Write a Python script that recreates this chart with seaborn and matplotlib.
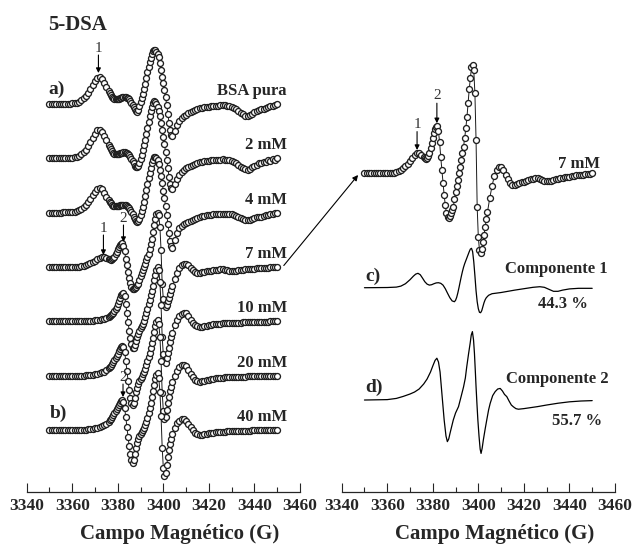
import numpy as np
import matplotlib
matplotlib.use("Agg")
import matplotlib.pyplot as plt
from matplotlib.ticker import MultipleLocator
import seaborn as sns

sns.set_style("ticks")
plt.rcParams['font.family'] = ['Liberation Serif', 'DejaVu Serif']
plt.rcParams['font.weight'] = 'bold'

# magnetic field grid (G): 1 G steps on the wings, 0.5 G in the centre
field = np.concatenate([np.arange(3350, 3376.5, 1),
                        np.arange(3376.5, 3404.5, 0.5),
                        np.arange(3405, 3450.5, 1)])

bsa_pura = [0, 0, 0, 0, 0, 0, 0.2, 0.3, 0.4, 0.5, 0.7, 1, 1.5, 2.5, 4, 6, 8, 11.5, 15, 19, 23, 26.5, 27.3, 25, 21.5, 17, 13,
            11, 9, 7.5, 6, 5.2, 4.8, 4.8, 5, 5.5, 6, 6.3, 6.6, 6.9, 7, 7, 6.5, 5.8, 5, 3.5, 1.5, -0.5, -2.5, -5, -6.8,
            -7.5, -5.5, -2, 2, 6, 10, 15, 20, 26, 32, 37, 42, 46.5, 50.5, 53, 54.3, 54, 52.5, 50, 47, 41, 34.5, 27.5,
            21, 14, 7, -1, -10, -19, -26, -31, -32,
            -27, -21, -17, -14, -12, -10.5, -9, -7.5, -6.5, -5.5, -4.7, -4, -3.5, -3, -2.7, -2.5, -2.2, -2, -1.8, -1.5,
            -1.3, -1.2, -1.2, -1.5, -2, -2.5, -3.5, -5, -6.5, -8.5, -10, -11.5, -12, -11, -9.5, -8, -7, -6, -5.2, -4.5,
            -3.7, -3, -2.3, -1.5, -0.8, 0]
mm2 = [0, 0, 0, 0, 0, 0, 0.2, 0.3, 0.4, 0.5, 0.8, 1.1, 1.7, 2.8, 4.3, 6.3, 8.5, 12, 16, 20.5, 24.5, 28, 28.8, 26.5, 22.5, 18, 13.5,
       11.2, 9, 7.2, 5.8, 4.8, 4.3, 4.2, 4.4, 4.8, 5.2, 5.5, 5.8, 6, 6, 5.8, 5.2, 4.4, 3.4, 1.8, -0.3, -2.5, -5, -7.2, -8.5,
       -9, -8, -5, -1, 3.5, 8, 13, 18.5, 24.5, 30.5, 36.5, 42, 47, 51.5, 55, 57, 56.5, 54.5, 51.5, 47.5, 42, 35.5, 28.5,
       21.5, 14, 6.5, -1.5, -10, -18.5, -25.5, -30, -31,
       -26, -20.5, -16.5, -13.5, -11.5, -10, -8.7, -7.3, -6.3, -5.4, -4.6, -4, -3.5, -3, -2.6, -2.3, -2, -1.8, -1.6, -1.4,
       -1.2, -1.1, -1.2, -1.5, -2, -2.6, -3.6, -5, -6.6, -8.4, -9.8, -11, -11.3, -10.2, -8.6, -7.2, -6.5, -5, -4.8, -3.2,
       -3.6, -2, -2.4, -0.8, -1.2, 0]
mm4 = [0, 0, 0, 0, 0, 0, 0.2, 0.3, 0.4, 0.5, 0.7, 1, 1.5, 2.5, 3.8, 5.5, 7.5, 10.5, 14, 17.5, 21, 24, 25, 23.5, 20, 16, 12.5,
       10.8, 9.3, 8, 7, 6.4, 6.2, 6.3, 6.6, 7, 7.4, 7.7, 7.9, 8, 8, 7.6, 7, 6, 4.8, 3, 0.8, -1.5, -4, -6.5, -8.2,
       -9, -8.5, -6, -2.5, 1.5, 6, 11, 16.5, 22.5, 28.5, 34.5, 40, 45, 49.5, 53, 55.3, 56, 55, 52.5, 48.5, 43, 36.5, 29.5,
       22, 14.5, 6.5, -2, -11, -20, -28, -33.5, -35,
       -27, -20, -15.5, -13, -11.5, -10.3, -9.3, -8.5, -7.5, -6.5, -5.5, -4.5, -3.7, -3, -2.5, -2.2, -2, -1.8, -1.6, -1.5,
       -1.3, -1.1, -1, -1, -1.2, -1.6, -2.2, -3, -4, -5.2, -6.3, -7.2, -7.6, -7, -6, -5.2, -4.6, -4.2, -4, -3.4,
       -2.8, -2.2, -1.6, -1, -0.5, 0]
mm7 = [0, 0, 0, 0, 0, 0, 0, 0, 0, 0, 0, 0, 0.2, 0.4, 0.6, 1, 1.6, 2.5, 3.5, 4.7, 6, 7.5, 9, 10.2, 10.4, 9.4, 8,
       7.6, 7.4, 7.6, 8.5, 10, 12.5, 15, 17.5, 20, 22, 23.3, 23.5, 21, 15.5, 8, 1.5, -5, -11, -16, -20,
       -22, -22.5, -21.5, -20, -18.5, -17, -13, -9.5, -6.5, -3.3, 0, 3.3, 6.5, 10, 13.3, 17.5, 22.5, 28, 35, 42,
       47.5, 53, 54, 51.5, 40, 16.7, -17, -32, -38.3, -40, -38, -34.5, -31, -26.7, -23, -19.5,
       -12.5, -6.5, -1.5, 1.5, 3, 3.2, 1.8, -0.8, -3, -4.8, -5.6, -5.8, -5.3, -4.8, -4.5, -4.2, -3.8, -3.5, -3, -2.7,
       -2.5, -2.5, -2.8, -3.2, -3.6, -4, -4, -3.8, -3.4, -3, -2.7, -2.4, -2.2, -2, -1.8, -1.6, -1.4, -1.2, -1, -0.9,
       -0.7, -0.6, -0.4, -0.3, -0.1, 0]
mm10 = [0, 0, 0, 0, 0, 0, 0, 0, 0, 0, 0, 0, 0, 0, 0, 0, 0, 0.2, 0.4, 0.6, 0.9, 1.2, 1.6, 2.1, 2.7, 3.5, 4.6,
        5.3, 6, 7, 8.5, 10, 12, 14.5, 17, 20, 23, 25.8, 27.5, 28, 25, 17, 8, -1, -9.5, -17, -23,
        -26.5, -27, -24, -20, -16, -12.5, -9.5, -7, -5, -2.5, 0.5, 4, 8, 12.5, 17, 21.5, 26, 30.5, 35.5, 41,
        46, 51, 54, 51, 39, 16, -16, -33, -40, -42, -37, -32, -26.5, -21, -16, -11.5,
        -4, 1.5, 5, 7.5, 8.5, 8, 5, 1.5, -1.5, -3.8, -5.2, -5.7, -5.3, -4.8, -4.3, -3.9, -3.5, -3.2, -2.9, -2.6,
        -2.4, -2.2, -2, -1.9, -1.8, -1.7, -1.6, -1.5, -1.4, -1.3, -1.2, -1.1, -1, -0.9, -0.8, -0.7, -0.6, -0.6, -0.5, -0.4,
        -0.3, -0.3, -0.2, -0.1, 0, 0]
mm20 = [0, 0, 0, 0, 0, 0, 0, 0, 0, 0, 0, 0, 0, 0, 0, 0, 0.2, 0.4, 0.6, 0.9, 1.3, 1.8, 2.4, 3.2, 4, 5.5, 7.5,
        8.8, 10, 11.5, 13.5, 15.5, 17.5, 19.5, 22, 24.5, 26.5, 28.5, 30, 29, 24, 15, 5, -5, -14, -22, -27.5,
        -29, -27, -22, -16.5, -12, -8.5, -5.5, -3, -1, 1.5, 4, 7, 10.5, 14.5, 18.5, 23, 27.5, 32.5, 38, 44,
        50, 54, 55.5, 52, 39, 15, -17, -35, -43, -41, -34, -27, -21, -15.5, -11, -6.5,
        0, 5, 8.5, 10.5, 11, 9.5, 6, 2, -1.5, -4, -5.5, -6, -5.5, -5, -4.5, -4, -3.6, -3.2, -2.9, -2.6,
        -2.3, -2.1, -1.9, -1.8, -1.7, -1.6, -1.5, -1.4, -1.3, -1.2, -1.1, -1, -0.9, -0.8, -0.7, -0.6, -0.5, -0.5, -0.4, -0.3,
        -0.3, -0.2, -0.1, -0.1, 0, 0]
mm40 = [0, 0, 0, 0, 0, 0, 0, 0, 0, 0, 0, 0, 0, 0, 0, 0, 0.3, 0.5, 0.8, 1.1, 1.5, 2, 2.7, 3.4, 4.5, 6, 8,
        9.5, 11, 12.8, 14.8, 17, 19, 21, 23, 25, 27, 29, 30, 28, 22, 13, 3, -7, -16, -24, -30.5,
        -33, -30, -24, -18, -13, -9.5, -6.5, -4, -2, 0, 2, 4.5, 8, 12, 16.5, 21.5, 27, 33, 39, 45,
        50.5, 55, 56.5, 52, 38, 14, -18, -38, -46, -43, -35, -27, -20, -14, -9, -4.5,
        2, 6.5, 9, 10.5, 10.5, 9, 6, 2.5, -0.5, -3, -4.5, -5, -4.8, -4.4, -4, -3.6, -3.2, -2.9, -2.6, -2.3,
        -2.1, -1.9, -1.7, -1.6, -1.5, -1.4, -1.3, -1.2, -1.1, -1, -0.9, -0.8, -0.8, -0.7, -0.6, -0.5, -0.5, -0.4, -0.3, -0.3,
        -0.2, -0.2, -0.1, -0.1, 0, 0]

spectra = [bsa_pura, mm2, mm4, mm7, mm10, mm20, mm40]
spectra_labels = ["BSA pura", "2 mM", "4 mM", "7 mM", "10 mM", "20 mM", "40 mM"]

# simulated components of the 7 mM spectrum
comp1_field = [3350, 3360, 3364, 3366, 3368, 3370, 3371.5, 3372.5, 3373.5, 3374.5, 3375.5, 3376.5, 3377.5, 3378.5,
               3379.5, 3380.5, 3381.5, 3382.5, 3383.5, 3384.5, 3385.5, 3386.5, 3387.5, 3388.5, 3389.5, 3390, 3390.5,
               3391, 3391.5, 3392, 3392.5, 3393, 3393.5, 3394, 3394.5, 3395, 3395.5, 3396, 3396.5, 3397, 3397.5,
               3398, 3398.5, 3399, 3399.5, 3400, 3400.5, 3401, 3401.5, 3402, 3402.5, 3403, 3403.5, 3404.5, 3406,
               3408, 3410, 3413, 3416, 3420, 3424, 3427, 3429, 3431, 3433, 3435, 3437, 3440, 3444, 3450]
comp1 = [0, 0.1, 0.3, 0.8, 2, 4, 5.8, 6.8, 7.2, 6.5, 4.8, 3, 1.8, 1.3, 1.5, 2, 2.4, 2.5, 2.2, 1.3, -0.5, -2.8, -5,
         -6.6, -7, -6.3, -4.8, -2.6, 0, 2.8, 5.5, 8, 10.2, 12, 13.5, 15, 16.5, 18, 19.3, 19.7, 18, 13, 6, -1.5, -7,
         -10.5, -12.3, -12.5, -11.5, -9.5, -7.5, -6, -5, -3.8, -3, -2.7, -2.4, -1.8, -1.2, -0.5, 0.2, 0.5, 0.2, -0.8,
         -1.8, -1.8, -1.2, -0.6, -0.3, -0.3]
comp2_field = [3350, 3360, 3364, 3367, 3370, 3372, 3374, 3376, 3377.5, 3379, 3380, 3381, 3381.8, 3382.5, 3383.2,
               3384, 3385, 3385.8, 3386.4, 3387, 3387.6, 3389, 3390, 3391.3, 3392.5, 3393.5, 3394.3, 3394.9, 3395.7,
               3396.4, 3396.9, 3397.4, 3397.9, 3398.3, 3398.7, 3399, 3399.4, 3399.8, 3400.3, 3400.8, 3401.2, 3401.7,
               3402.2, 3403, 3403.7, 3404.5, 3405.2, 3406.3, 3407.4, 3408.5, 3409.6, 3410.6, 3411.5, 3412.5, 3413.5,
               3414.5, 3415.4, 3416.5, 3417.6, 3420, 3423, 3426, 3430, 3435, 3440, 3445, 3450]
comp2 = [0, 0.2, 0.8, 1.8, 3, 4, 5.5, 8, 10.5, 14, 17, 19.8, 20.9, 19, 14, 3.3, -10, -18, -20.8, -19.5, -16.5, -10,
         -6.5, -3.3, 2, 6.5, 11, 16.5, 23, 28.3, 32.5, 34.2, 30, 23.3, 14, 6.7, -2, -10, -18, -24.5, -26.7, -24, -20,
         -14.5, -10, -5, -1.7, 2.2, 4.2, 5.5, 5.8, 4.5, 2.8, 1.7, -0.5, -2.5, -3.4, -4.3, -4.6, -4.3, -3.8, -3.3,
         -2.5, -1.6, -0.9, -0.5, -0.3]
comp_labels = ["Componente 1", "Componente 2"]
comp_percent = ["44.3 %", "55.7 %"]

# layout (vertical stacking, in pixel-like units)
left_offsets = [388, 333.7, 279.4, 225.1, 170.8, 116.5, 62.2]
right_offsets = {"7mM": 159.35, "c": 102.15, "d": 46}

fig = plt.figure(figsize=(6.37, 5.45), dpi=100)
ax_l = fig.add_axes([0.0419, 0.0972, 0.4290, 0.9028])
ax_r = fig.add_axes([0.5364, 0.0972, 0.4290, 0.9028])

dot = dict(marker='o', markersize=4.3, markerfacecolor='white', markeredgecolor='#1e1e1e',
           markeredgewidth=0.95, color='#1a1a1a', linewidth=0.7)

for vals, off, lab in zip(spectra, left_offsets, spectra_labels):
    sns.lineplot(x=field, y=np.array(vals) + off, ax=ax_l, estimator=None, **dot)
    ax_l.text(3454.2, off + 9, lab, ha='right', va='baseline', fontsize=12, fontweight='bold')

sns.lineplot(x=field, y=np.array(mm7) + right_offsets["7mM"], ax=ax_r, estimator=None, **dot)
sns.lineplot(x=comp1_field, y=np.array(comp1) + right_offsets["c"], ax=ax_r, estimator=None,
             color='black', linewidth=0.9)
sns.lineplot(x=comp2_field, y=np.array(comp2) + right_offsets["d"], ax=ax_r, estimator=None,
             color='black', linewidth=0.9)

ax_l.set_ylim(0, 492)
ax_r.set_ylim(0, 246)

for ax in (ax_l, ax_r):
    ax.set_xlim(3340, 3460)
    ax.set_xticks(range(3340, 3461, 20))
    ax.xaxis.set_minor_locator(MultipleLocator(10))
    ax.set_yticks([])
    ax.set_ylabel('')
    for s in ('top', 'left', 'right'):
        ax.spines[s].set_visible(False)
    ax.spines['bottom'].set_linewidth(0.9)
    ax.tick_params(axis='x', which='major', direction='in', length=6.5, width=0.8, labelsize=12.5, pad=4)
    ax.tick_params(axis='x', which='minor', direction='in', length=3.5, width=0.8)
    for t in ax.get_xticklabels():
        t.set_fontweight('bold')
    ax.set_xlabel('Campo Magnético (G)', fontsize=15, fontweight='bold')
    ax.xaxis.set_label_coords(0.56, -0.066)
    ax.patch.set_alpha(0)

# panel texts
ax_l.text(3349.4, 462, '5-DSA', fontsize=15, fontweight='bold', va='baseline')
ax_l.text(3349.4, 398, 'a)', fontsize=14, fontweight='bold', va='baseline')
ax_l.text(3350.2, 73.7, 'b)', fontsize=14, fontweight='bold', va='baseline')
ax_r.text(3444.3, 161.9, '7 mM', fontsize=12, fontweight='bold', ha='center', va='baseline')
ax_r.text(3350.3, 105.6, 'c)', fontsize=14, fontweight='bold', va='baseline')
ax_r.text(3350.3, 50.2, 'd)', fontsize=14, fontweight='bold', va='baseline')
ax_r.text(3434.2, 109.6, comp_labels[0], fontsize=12, fontweight='bold', ha='center', va='baseline')
ax_r.text(3437.1, 91.8, comp_percent[0], fontsize=12, fontweight='bold', ha='center', va='baseline')
ax_r.text(3434.6, 54.6, comp_labels[1], fontsize=12, fontweight='bold', ha='center', va='baseline')
ax_r.text(3443.3, 33.5, comp_percent[1], fontsize=12, fontweight='bold', ha='center', va='baseline')

# peak markers "1" / "2"
arrow = dict(arrowstyle='-|>', color='black', lw=0.8, mutation_scale=7, shrinkA=0, shrinkB=0)
peak_marks = [
    (ax_l, '1', 3371.5, 444, 437, 419),
    (ax_l, '1', 3373.7, 264, 257, 237),
    (ax_l, '2', 3382.5, 274, 267, 250),
    (ax_l, '2', 3382.3, 115, 108, 95),
    (ax_r, '1', 3373.1, 184, 180.2, 171),
    (ax_r, '2', 3381.8, 198.5, 194.4, 184.4),
]
for ax, lab, x, ytxt, y0, y1 in peak_marks:
    ax.text(x, ytxt, lab, ha='center', va='center', fontsize=11, fontweight='normal', color='#333333')
    ax.annotate('', xy=(x, y1), xytext=(x, y0), arrowprops=arrow)

# arrow from the left 7 mM spectrum to the enlarged one
ax_r.annotate('', xy=(3347.2, 158.5), xycoords='data',
              xytext=(3452.9, 226.5), textcoords=ax_l.transData,
              arrowprops=dict(arrowstyle='-|>', color='black', lw=0.8, mutation_scale=8,
                              shrinkA=0, shrinkB=0), annotation_clip=False)

fig.savefig('out.png', dpi=100)
